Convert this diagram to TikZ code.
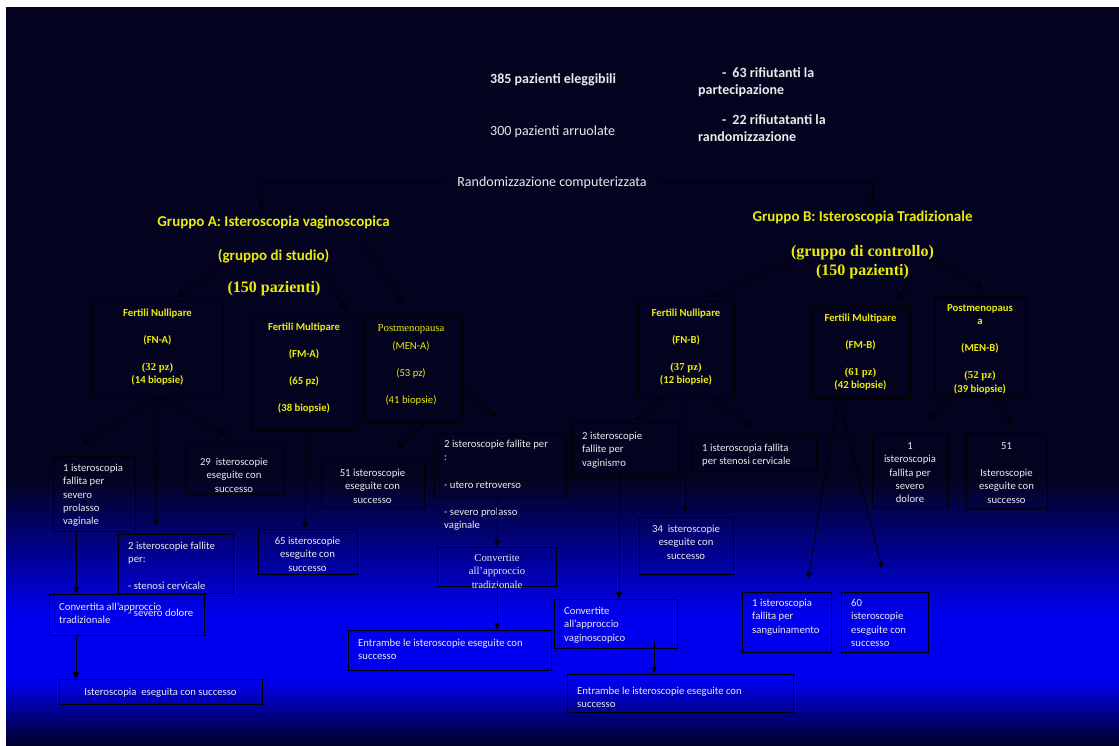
\documentclass[tikz,border=0pt]{standalone}
\usepackage{fontspec}
\setmainfont{Carlito}
\newfontfamily\tnr{Liberation Serif}
\usetikzlibrary{arrows.meta,calc,fit}
\newcommand\fsz[2]{\fontsize{#1}{#2}\selectfont}
\definecolor{bgdark}{RGB}{3,3,32}
\definecolor{bgblue}{RGB}{0,0,238}
\definecolor{bgbot}{RGB}{0,0,40}
\definecolor{ylw}{RGB}{235,235,10}
\definecolor{wtxt}{RGB}{235,235,235}
\begin{document}
\begin{tikzpicture}[x=1pt,y=-1pt,
 ln/.style={draw=black,line width=0.8pt},
 arr/.style={ln,-{Triangle[length=6.5pt,width=5.5pt]}},
 box/.style={draw=black,line width=0.8pt,inner sep=0pt},
 tt/.style={text=wtxt,inner sep=0pt,font=\fsz{14}{17}},
 ttb/.style={text=wtxt,inner sep=0pt,font=\fsz{14}{17}\bfseries},
 gt/.style={text=ylw,inner sep=0pt,font=\fsz{15}{18}\bfseries},
 gs/.style={text=ylw,inner sep=0pt,font=\tnr\fsz{16}{19}\bfseries},
 yb/.style={text=ylw,inner sep=0pt,font=\fsz{10.7}{13.3}\bfseries,align=center,anchor=north},
 yr/.style={text=ylw,inner sep=0pt,font=\fsz{10.7}{13.3},align=center,anchor=north},
 wl/.style={text=wtxt,inner sep=0pt,font=\fsz{10.7}{13.3},align=left,anchor=north west},
 wc/.style={text=wtxt,inner sep=0pt,font=\fsz{10.7}{13.3},align=center,anchor=north},
 ws/.style={text=wtxt,inner sep=0pt,font=\tnr\fsz{10.7}{13.3},align=center,anchor=north}]

% background
\fill[white] (0,0) rectangle (1119,746);
\fill[bgdark] (6,7) rectangle (1119,480.5);
\shade[top color=bgdark,bottom color=bgblue] (6,480) rectangle (1119,615);
\fill[bgblue] (6,614.5) rectangle (1119,680.5);
\shade[top color=bgblue,bottom color=bgbot] (6,680) rectangle (1119,746);
\useasboundingbox (0,0) rectangle (1119,746);

% top texts
\node[ttb,anchor=west] (n385) at (490,80) {385 pazienti eleggibili};
\node[ttb,anchor=north west,align=left] (n63) at (698,65.6) {\strut\hspace*{24pt}-\hspace{6pt}63 rifiutanti la\\partecipazione};
\node[tt,anchor=west] (n300) at (490,132) {300 pazienti arruolate};
\node[ttb,anchor=north west,align=left] (n22) at (698,112.6) {\strut\hspace*{24pt}-\hspace{6pt}22 rifiutatanti la\\randomizzazione};
\node[tt,inner xsep=12pt] (rand) at (552,183) {Randomizzazione computerizzata};

% group titles
\node[gt] (gA) at (273.5,223) {Gruppo A: Isteroscopia vaginoscopica};
\node[gt] (gAs) at (273.5,256) {(gruppo di studio)};
\node[gs] (gAp) at (274,289) {(150 pazienti)};
\node[gt] (gB) at (862.5,217) {Gruppo B: Isteroscopia Tradizionale};
\node[gs,align=center,anchor=north] (gBs) at (862.5,242.8) {\strut(gruppo di controllo)\\(150 pazienti)};

% category boxes
\node[box,fit={(92,301) (223,397)}] (fna) {};
\node[box,fit={(251,315) (357,430)}] (fma) {};
\node[box,fit={(364,316) (462,422)}] (mena) {};
\node[box,fit={(638,301) (734,397)}] (fnb) {};
\node[box,fit={(812,306) (910,398)}] (fmb) {};
\node[box,fit={(935,296) (1025,396)}] (menb) {};

\node[yb] (tfna) at (157.5,307) {\strut Fertili Nullipare\\[13.7pt](FN-A)\\[13.7pt]{\tnr (32 pz)}\\(14 biopsie)};
\node[yb] (tfma) at (304,321) {\strut Fertili Multipare\\[13.7pt](FM-A)\\[13.7pt](65 pz)\\[13.7pt](38 biopsie)};
\node[yr] (tmena) at (411,322) {\strut{\tnr Postmenopausa}\\[4.7pt](MEN-A)\\[13.7pt](53 pz)\\[13.7pt](41 biopsie)};
\node[yb] (tfnb) at (686,307) {\strut Fertili Nullipare\\[13.7pt](FN-B)\\[13.7pt]{\tnr (37 pz)}\\(12 biopsie)};
\node[yb] (tfmb) at (860.5,312) {\strut Fertili Multipare\\[13.7pt](FM-B)\\[13.7pt]{\tnr (61 pz)}\\(42 biopsie)};
\node[yb] (tmenb) at (980,302) {\strut Postmenopaus\\a\\[13.7pt](MEN-B)\\[13.7pt]{\tnr (52 pz)}\\(39 biopsie)};

% outcome boxes
\node[box,fit={(53,456) (135,531)}] (b1) {};
\node[box,fit={(185,445) (283,494)}] (b29) {};
\node[box,fit={(118,534) (233,593)}] (b2f) {};
\node[box,fit={(49,594) (204,635)}] (bcA) {};
\node[box,fit={(59,679) (262,704)}] (bsA) {};
\node[box,fit={(258,529) (357,574)}] (b65) {};
\node[box,fit={(321,461) (424,507)}] (b51a) {};
\node[box,fit={(434,433) (566,497)}] (b2fm) {};
\node[box,fit={(437,547) (556,586)}] (bcm) {};
\node[box,fit={(348,630) (551,670)}] (be1) {};
\node[box,fit={(572,423) (679,476)}] (bvag) {};
\node[box,fit={(692,436) (816,471)}] (bst) {};
\node[box,fit={(639,517) (733,574)}] (b34) {};
\node[box,fit={(554,599) (677,648)}] (bcB) {};
\node[box,fit={(567,674) (793,712)}] (be2) {};
\node[box,fit={(742,592) (831,652)}] (bsa) {};
\node[box,fit={(841,592) (928,652)}] (b60) {};
\node[box,fit={(872,433) (948,507)}] (bdol) {};
\node[box,fit={(966,433) (1047,508)}] (b51b) {};

\node[wl] (tb1) at (63,462) {\strut 1 isteroscopia\\fallita per\\severo\\prolasso\\vaginale};
\node[wc] (tb29) at (234,456) {\strut 29\ \ isteroscopie\\eseguite con\\successo};
\node[wl] (tb2f) at (128,540) {\strut 2 isteroscopie fallite\\per:\\[13.3pt]- stenosi cervicale\\[13.3pt]- severo dolore};
\node[wl] (tbcA) at (59,601) {\strut Convertita all’approccio\\[-0.7pt]tradizionale};
\node[wc] (tbsA) at (160.5,686) {\strut Isteroscopia\ \ eseguita con successo};
\node[wc] (tb65) at (307.5,535) {\strut 65 isteroscopie\\eseguite con\\successo};
\node[wc] (tb51a) at (372.5,467) {\strut 51 isteroscopie\\eseguite con\\successo};
\node[wl] (tb2fm) at (444,438) {\strut 2 isteroscopie fallite per\\:\\[14pt]- utero retroverso\\[14pt]- severo prolasso\\vaginale};
\node[ws] (tbcm) at (497,552) {\strut Convertite\\all’approccio\\tradizionale};
\node[wl] (tbe1) at (358,637) {\strut Entrambe le isteroscopie eseguite con\\successo};
\node[wl] (tbvag) at (582,430) {\strut 2 isteroscopie\\fallite per\\vaginismo};
\node[wl] (tbst) at (702,442) {\strut 1 isteroscopia fallita\\per stenosi cervicale};
\node[wc] (tb34) at (686,523) {\strut 34\ \ isteroscopie\\eseguite con\\successo};
\node[wl] (tbcB) at (564,605) {\strut Convertite\\all’approccio\\vaginoscopico};
\node[wl] (tbe2) at (577,685) {\strut Entrambe le isteroscopie eseguite con\\successo};
\node[wl] (tbsa) at (752,597) {\strut 1 isteroscopia\\fallita per\\sanguinamento};
\node[wl] (tb60) at (851,597) {\strut 60\\isteroscopie\\eseguite con\\successo};
\node[wc] (tbdol) at (910,440) {\strut 1\\isteroscopia\\fallita per\\severo\\dolore};
\node[wc] (tb51b) at (1006.5,440) {\strut 51\\[13.7pt]Isteroscopie\\eseguite con\\successo};

% connectors
\draw[arr] (rand.west) -| ($(gA.north)+(-12.5,-6)$);
\draw[arr] (rand.east) -| ($(gB.north)+(9.5,-6)$);
\draw[arr] ($(gAs.south west)+(0,7)$) -- ($(fna.north)+(19.5,-4)$);
\draw[arr] ($(gAp.north east)+(7,-3)$) -- ($(fma.north)+(42,-6)$);
\draw[arr] ($(gA.south east)+(-24,16.5)$) -- ($(mena.north)+(-10,-11)$);
\draw[arr] ($(gBs.west)+(-3,2)$) -- ($(fnb.north)+(24,-4)$);
\draw[arr] ($(gBs.south east)+(-22,-3)$) -- ($(fmb.north)+(36,-6)$);
\draw[arr] ($(gBs.east)+(-3,-1)$) -- ($(menb.north)+(3,-7)$);

\draw[arr] (fna.south) -- ($(b1.north)+(-12,-11)$);
\draw[arr] (fna.south) -- ($(b2f.north)+(-19.5,-7)$);
\draw[arr] (fna.south) -- ($(b29.north)+(-7,-10)$);
\draw[arr] ($(b1.south)+(-18,0)$) -- ($(bcA.north)+(-50.5,0)$);
\draw[arr] ($(bcA.south)+(-50.5,0)$) -- ($(bsA.north)+(-84.5,0)$);
\draw[arr] ($(fma.south)+(3,0)$) -- ($(b65.north)+(-2.5,0)$);
\draw[arr] ($(mena.south)+(13,0)$) -- ($(b51a.north)+(24.5,-12)$);
\draw[arr] ($(mena.east)+(0,21)$) -- ($(b2fm.north)+(-3,-16)$);
\draw[arr] ($(b2fm.south)+(-3,0)$) -- ($(bcm.north)+(0.5,0)$);
\draw[arr] ($(bcm.south)+(0.5,0)$) -- ($(be1.north)+(47.5,0)$);
\draw[arr] ($(fnb.south)+(-21,0)$) -- ($(bvag.north)+(9.5,-1)$);
\draw[arr] ($(fnb.south)+(-1,0)$) -- ($(b34.north)+(-1,-4)$);
\draw[arr] ($(fnb.south)+(26,0)$) -- ($(bst.north)+(-3,-9)$);
\draw[arr] ($(bvag.south)+(-6.5,-13)$) -- ($(bcB.north)+(3.5,0)$);
\draw[arr] ($(bcB.south)+(38.5,-6)$) -- ($(be2.north)+(-26,0)$);
\draw[arr] ($(fmb.south)+(-23,0)$) -- ($(bsa.north)+(21.5,-13)$);
\draw[arr] ($(fmb.south)+(-22,0)$) -- ($(b60.north)+(-2.5,-23)$);
\draw[arr] ($(menb.south)+(-27,1)$) -- ($(bdol.north)+(19,-13)$);
\draw[arr] ($(menb.south)+(16,1)$) -- ($(b51b.north)+(6.5,-8)$);
\end{tikzpicture}
\end{document}
